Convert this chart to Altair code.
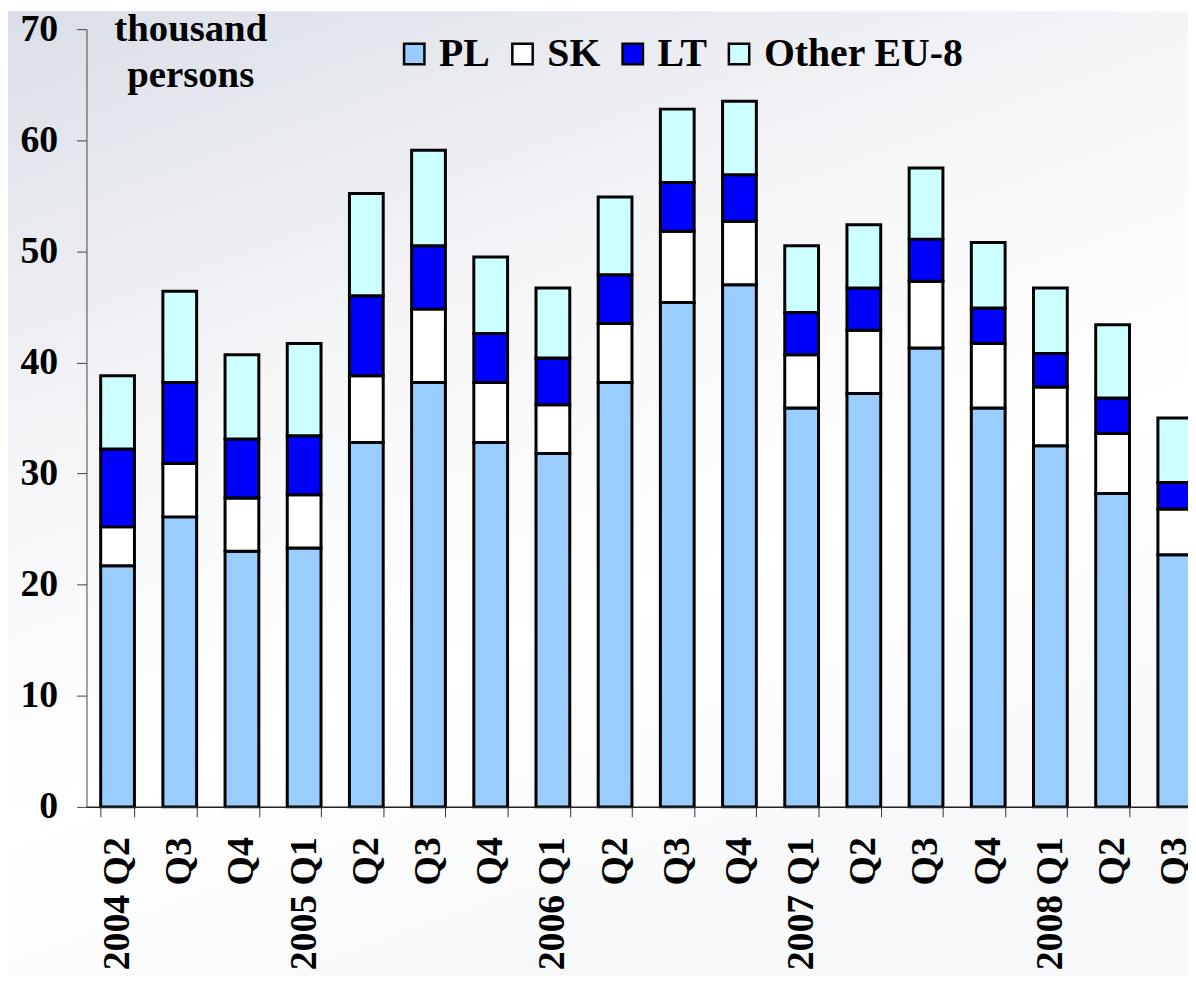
import altair as alt
import pandas as pd

periods = ["2004 Q2", "2004 Q3", "2004 Q4", "2005 Q1", "2005 Q2", "2005 Q3", "2005 Q4",
           "2006 Q1", "2006 Q2", "2006 Q3", "2006 Q4", "2007 Q1", "2007 Q2", "2007 Q3",
           "2007 Q4", "2008 Q1", "2008 Q2", "2008 Q3"]
tick_labels = ["2004 Q2", "Q3", "Q4", "2005 Q1", "Q2", "Q3", "Q4", "2006 Q1", "Q2", "Q3",
               "Q4", "2007 Q1", "Q2", "Q3", "Q4", "2008 Q1", "Q2", "Q3"]
series = ["PL", "SK", "LT", "Other EU-8"]
colors = ["#99CCFF", "#FFFFFF", "#0000FF", "#CCFFFF"]

pl = [21.7, 26.1, 23.0, 23.3, 32.8, 38.2, 32.8, 31.8, 38.2, 45.4, 47.0, 35.9, 37.2, 41.3, 35.9, 32.5, 28.2, 22.7]
sk = [3.5, 4.8, 4.8, 4.8, 6.0, 6.6, 5.4, 4.4, 5.3, 6.4, 5.7, 4.8, 5.7, 6.0, 5.8, 5.3, 5.4, 4.1]
lt = [7.0, 7.3, 5.3, 5.3, 7.2, 5.7, 4.4, 4.2, 4.4, 4.4, 4.2, 3.8, 3.8, 3.8, 3.2, 3.0, 3.2, 2.4]
other = [6.6, 8.2, 7.6, 8.3, 9.2, 8.6, 6.9, 6.3, 7.0, 6.6, 6.6, 6.0, 5.7, 6.4, 5.9, 5.9, 6.6, 5.8]

rows = []
for s_idx, (name, vals) in enumerate(zip(series, [pl, sk, lt, other])):
    for p, v in zip(periods, vals):
        rows.append({"period": p, "series": name, "order": s_idx, "value": v})
df = pd.DataFrame(rows)

FONT = "Liberation Serif"
W, H = 1127, 783

label_expr = "[" + ",".join("'%s'" % t for t in tick_labels) + "][indexof([" + \
    ",".join("'%s'" % p for p in periods) + "], datum.value)]"

bg = alt.Chart(alt.Data(values=[{"bg": 1}])).mark_rect(
    color=alt.LinearGradient(
        gradient="linear",
        stops=[alt.GradientStop(offset=0, color="#dadee6"),
               alt.GradientStop(offset=0.4, color="#f5f6f8"),
               alt.GradientStop(offset=0.7, color="#ffffff"),
               alt.GradientStop(offset=1, color="#f7f8fa")],
        x1=0, y1=0, x2=0.45, y2=1),
).encode(
    x=alt.value(-79), x2=alt.value(W), y=alt.value(-18), y2=alt.value(960)
)

bars = alt.Chart(df).mark_bar(stroke="black", strokeWidth=3).encode(
    x=alt.X("period:N", sort=periods,
            scale=alt.Scale(domain=periods, paddingInner=0.457, paddingOuter=0.2285),
            axis=alt.Axis(title=None, labelAngle=270, labelExpr=label_expr, tickBand="extent",
                          labelFont=FONT, labelFontSize=38, labelFontWeight="bold", labelColor="black",
                          labelPadding=20, tickSize=10, tickColor="#333333", domainColor="#222222",
                          domainWidth=1.5, labelOverlap=False, labelFlush=False, zindex=2)),
    y=alt.Y("value:Q", stack="zero",
            scale=alt.Scale(domain=[0, 70], nice=False),
            axis=alt.Axis(title=None, values=[0, 10, 20, 30, 40, 50, 60, 70], grid=False,
                          labelFont=FONT, labelFontSize=38, labelFontWeight="bold", labelColor="black",
                          labelPadding=19, tickSize=10, tickColor="#444444", domainColor="#444444",
                          zindex=2)),
    color=alt.Color("series:N", sort=series,
                    scale=alt.Scale(domain=series, range=colors),
                    legend=alt.Legend(title=None, orient="none", legendX=310, legendY=5,
                                      direction="horizontal", symbolType="square", symbolSize=420,
                                      symbolStrokeColor="black", symbolStrokeWidth=2.5,
                                      symbolOpacity=1, labelLimit=400,
                                      labelFont=FONT, labelFontSize=40, labelFontWeight="bold",
                                      labelColor="black", labelOffset=5, columnPadding=12,
                                      zindex=2)),
    order=alt.Order("order:Q", sort="ascending"),
)

unit = alt.Chart(alt.Data(values=[{"t": 1}])).mark_text(
    text=["thousand", "persons"], font=FONT, fontSize=39, fontWeight="bold",
    align="center", baseline="alphabetic", lineHeight=46, color="black"
).encode(x=alt.value(105), y=alt.value(12))

chart = alt.layer(bg, bars, unit).properties(
    width=W, height=H,
    autosize=alt.AutoSizeParams(type="none"),
    padding={"left": 79, "top": 18, "right": -18, "bottom": 167},
    background="white",
).configure_view(stroke=None)

chart.save("out.html", embed_options={"renderer": "svg", "actions": False})
